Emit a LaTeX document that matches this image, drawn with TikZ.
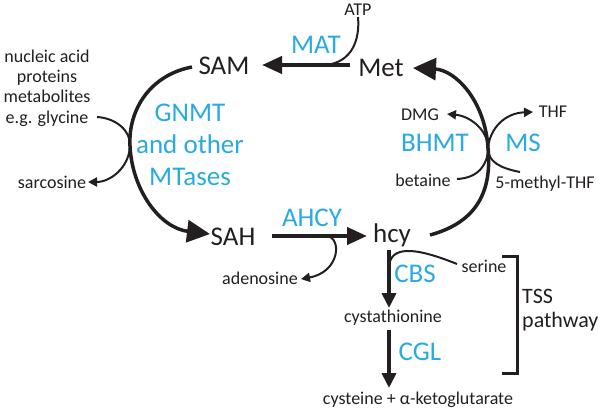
\documentclass[tikz,border=0pt]{standalone}
\usepackage{fontspec}
\setmainfont{Carlito}
\usetikzlibrary{arrows.meta}
\definecolor{enzblue}{RGB}{41,171,226}
\definecolor{txt}{RGB}{35,31,32}
\tikzset{
  big/.style={font=\fontsize{27}{29}\selectfont, text=txt, inner sep=1pt},
  small/.style={font=\fontsize{18}{20}\selectfont, text=txt, inner sep=1pt},
  enz/.style={font=\fontsize{27}{32}\selectfont, text=enzblue, inner sep=1pt, align=center},
  tss/.style={font=\fontsize{22}{24}\selectfont, text=txt, inner sep=0pt, align=left, anchor=west},
  mainarr/.style={line width=4pt, draw=txt, -{Triangle[length=20pt,width=17pt]}},
  arcarr/.style={line width=3.5pt, draw=txt, -{Triangle[length=23pt,width=22pt]}},
  vertarr/.style={line width=4pt, draw=txt, -{Triangle[length=15pt,width=14pt]}},
  sidearr/.style={line width=2pt, draw=txt, -{Triangle[length=9pt,width=9pt]}},
  sideline/.style={line width=2pt, draw=txt},
}
\begin{document}
\begin{tikzpicture}[x=1pt,y=-1pt]
\useasboundingbox[fill=white] (0,0) rectangle (600,413);
% metabolites
\node[big] (SAM) at (224,66) {SAM};
\node[big] (Met) at (381,68) {Met};
\node[big] (SAH) at (233,237) {SAH};
\node[big] (hcy) at (392,235) {hcy};
\node[small] (ATP) at (358,10) {ATP};
\node[small] (cysta) at (393,318) {cystathionine};
\node[small] (cyst) at (418,400) {cysteine + α-ketoglutarate};
\node[small] (aden) at (260,278) {adenosine};
\node[small] (serine) at (484,266) {serine};
\node[small] (DMG) at (420,115) {DMG};
\node[small] (THF) at (553,112) {THF};
\node[small] (betaine) at (423,180) {betaine};
\node[small] (mTHF) at (545,184) {5-methyl-THF};
\node[small] (sarc) at (52,182) {sarcosine};
\node[small, align=center, font=\fontsize{18}{20.3}\selectfont] (subs) at (47,88) {nucleic acid\\proteins\\metabolites\\e.g. glycine};
% enzymes
\node[enz] (MAT) at (316,45) {MAT};
\node[enz] (GNMT) at (190,145) {GNMT\\and other\\MTases};
\node[enz] (AHCY) at (312,218) {AHCY};
\node[enz] (BHMT) at (435,143) {BHMT};
\node[enz] (MS) at (523,143) {MS};
\node[enz] (CBS) at (415,274) {CBS};
\node[enz] (CGL) at (420,352) {CGL};
\node[tss] (TSS) at (522,310) {TSS\\pathway};
% junction coordinates
\coordinate (j1) at (326,65);
\coordinate (j2) at (327,236);
\coordinate (j3) at (130,146);
\coordinate (j4) at (488,148);
\coordinate (j5) at (389,265);
\coordinate (gly) at (97,117);
% main arrows
\draw[mainarr] (350,65) -- (262,65);
\draw[sideline] (ATP.south) .. controls (360,40) and (352,62) .. (j1);
\draw[mainarr] (272,236) -- (367,236);
\draw[sidearr] (j2) .. controls (342,238) and (340,272) .. (301,279);
\draw[vertarr] (389,250) -- (389,308);
\draw[vertarr] (389,330) -- (389,388);
\draw[sideline] (j5) .. controls (392,248) and (410,245) .. (457,264);
% left arc
\draw[arcarr] (192,67) .. controls (150,75) and (128,110) .. (j3)
  .. controls (132,190) and (160,228) .. (210,234);
\draw[sidearr] (gly) .. controls (115,118) and (131,130) .. (j3)
  .. controls (129,168) and (110,182) .. (88,182);
% right arc
\draw[arcarr] (430,235) .. controls (478,222) and (492,190) .. (j4)
  .. controls (485,100) and (455,70) .. (413,68);
\draw[sidearr] (457,179) .. controls (478,178) and (488,165) .. (j4)
  .. controls (488,130) and (470,116) .. (447,114);
\draw[sidearr] (520,172) .. controls (500,168) and (488,162) .. (j4)
  .. controls (490,128) and (505,113) .. (533,112);
% bracket
\draw[line width=3pt, draw=txt] (502,256) -- (517,256) -- (517,373) -- (502,373);
\end{tikzpicture}
\end{document}
